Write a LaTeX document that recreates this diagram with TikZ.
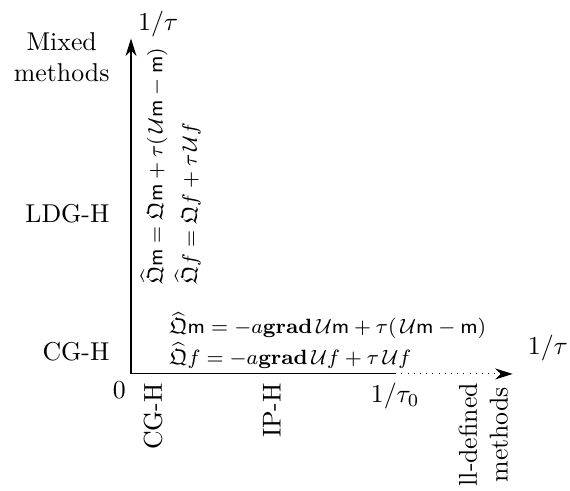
\documentclass[tikz,border=0pt]{standalone}
\usepackage{amsmath,amssymb}
\usepackage{xcolor}
\usepackage{tikz}
\usetikzlibrary{positioning, arrows.meta, calc}
\newcommand{\Qop}{\mathfrak{Q}}
\newcommand{\Qhat}{\widehat{\mathfrak{Q}}}
\newcommand{\Uop}{\,\mathcal{U}}
\newcommand{\msf}{\mathsf{m}}
\tikzset{
  axis/.style={-{Stealth[length=2.4mm, width=1.5mm]}, thin},
  method/.style={align=center, anchor=east},
  vmethod/.style={align=center, anchor=east, rotate=90},
  flux/.style={align=left, anchor=west, font=\fontsize{8.5}{10.8}\selectfont},
}

\begin{document}
\begin{tikzpicture}
  \useasboundingbox (-1.785,-1.594) rectangle (5.981,5.095);
  \coordinate (O) at (0,0);
  \coordinate (ytip) at (0,4.57);
  \coordinate (t0) at (3.6,0);
  \coordinate (xtip) at (5.2,0);
  \draw[axis] (O) -- (ytip);
  \draw (O) -- (t0);
  \draw[axis, dotted] (t0) -- (xtip);
  \node (ylab) at (0.37,4.77) {$1/\tau$};
  \node (xlab) at (5.68,0.35) {$1/\tau$};
  \node (zero) at (-0.16,-0.22) {$0$};
  \node[below=0pt of t0] (tau0) {$1/\tau_0$};
  \node[method] (mixed) at (-0.17,4.31) {Mixed\\methods};
  \node[method] (ldgh) at (-0.17,2.18) {LDG-H};
  \node[method] (cghy) at (-0.17,0.31) {CG-H};
  \node[vmethod] (cghx) at (0.30,0) {CG-H};
  \node[vmethod] (iph) at (1.92,0) {IP-H};
  \node[vmethod] (illdef) at (4.80,0) {ll-defined\\methods};
  \node[flux, rotate=90] (ldgflux) at (0.54,1.09)
    {$\Qhat\msf = \Qop\msf + \tau(\Uop\msf - \msf)$\\[2.5pt]
     $\Qhat f = \Qop f + \tau\Uop f$};
  \node[flux] (cgflux) at (0.40,0.46)
    {$\Qhat\msf = -a\mathbf{grad}\Uop\msf + \tau(\Uop\msf - \msf)$\\[1pt]
     $\Qhat f = -a\mathbf{grad}\Uop f + \tau\Uop f$};
\end{tikzpicture}
\end{document}
